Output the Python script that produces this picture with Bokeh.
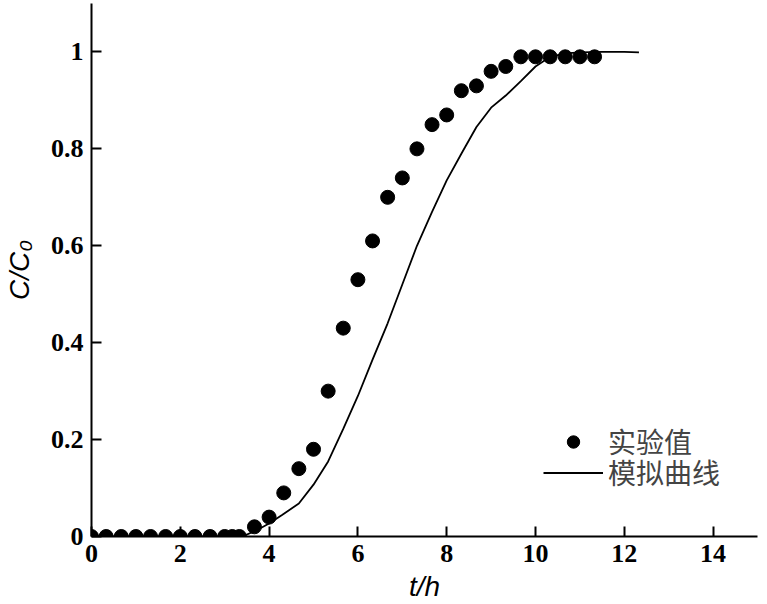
from bokeh.plotting import figure
from bokeh.models import Legend, LegendItem, NumeralTickFormatter, FixedTicker
from bokeh.embed import file_html
from bokeh.resources import INLINE

# measured breakthrough data (t in h, C/C0)
t_exp = [0, 0.33, 0.67, 1.0, 1.33, 1.67, 2.0, 2.33, 2.67, 3.0, 3.17, 3.33,
         3.67, 4.0, 4.33, 4.67, 5.0, 5.33, 5.67, 6.0, 6.33, 6.67, 7.0, 7.33,
         7.67, 8.0, 8.33, 8.67, 9.0, 9.33, 9.67, 10.0, 10.33, 10.67, 11.0, 11.33]
c_exp = [0, 0, 0, 0, 0, 0, 0, 0, 0, 0, 0, 0,
         0.02, 0.04, 0.09, 0.14, 0.18, 0.30, 0.43, 0.53, 0.61, 0.70, 0.74, 0.80,
         0.85, 0.87, 0.92, 0.93, 0.96, 0.97, 0.99, 0.99, 0.99, 0.99, 0.99, 0.99]

# simulated curve
t_fit = [0, 3.4, 3.7, 4.0, 4.3, 4.67, 5.0, 5.33, 5.67, 6.0, 6.33, 6.67, 7.0,
         7.33, 7.67, 8.0, 8.33, 8.67, 9.0, 9.33, 9.67, 10.0, 10.33, 10.67,
         11.0, 11.5, 12.0, 12.33]
c_fit = [0, 0, 0.012, 0.027, 0.045, 0.068, 0.107, 0.155, 0.222, 0.29, 0.365,
         0.44, 0.52, 0.60, 0.67, 0.735, 0.79, 0.845, 0.885, 0.91, 0.94, 0.97,
         0.99, 0.997, 0.999, 1.0, 1.0, 0.999]

x_ticks = [0, 2, 4, 6, 8, 10, 12, 14]
y_ticks = [0, 0.2, 0.4, 0.6, 0.8, 1]

TICK_FONT = "Liberation Serif"
LABEL_FONT = "Liberation Sans"

p = figure(width=767, height=604, x_range=(0, 15), y_range=(0, 1.1),
           output_backend="svg", toolbar_location=None,
           min_border_left=91, min_border_right=10, min_border_top=3, min_border_bottom=67)
p.outline_line_color = None
p.xgrid.grid_line_color = None
p.ygrid.grid_line_color = None

# axes: ticks pointing inward, bold serif labels
for ax in (p.xaxis, p.yaxis):
    ax.axis_line_width = 2
    ax.major_tick_line_width = 2
    ax.major_tick_in = 10
    ax.major_tick_out = 0
    ax.minor_tick_in = 0
    ax.minor_tick_out = 0
    ax.major_label_text_font = TICK_FONT
    ax.major_label_text_font_style = "bold"
    ax.major_label_text_font_size = "26px"
    ax.major_label_text_color = "black"
    ax.axis_line_color = "black"
    ax.major_tick_line_color = "black"
    ax.axis_label_text_font = LABEL_FONT
    ax.axis_label_text_font_style = "italic"
    ax.axis_label_text_font_size = "28px"
    ax.axis_label_text_color = "black"

p.xaxis.ticker = FixedTicker(ticks=x_ticks)
p.yaxis.ticker = FixedTicker(ticks=y_ticks)
p.yaxis.formatter = NumeralTickFormatter(format="0.[0]")
p.xaxis.major_label_standoff = 8
p.yaxis.major_label_standoff = 8

p.xaxis.axis_label = "t/h"
p.yaxis.axis_label = "C/C\u2080"
p.xaxis.axis_label_standoff = 6
p.yaxis.axis_label_standoff = 13

pts = p.scatter(t_exp, c_exp, size=14, color="black")
fit = p.line(t_fit, c_fit, line_width=1.8, color="black")

# one legend per entry, so the two rows sit as close as in the original
legend_style = dict(padding=0, margin=0, glyph_width=60, glyph_height=31,
                    label_height=31, label_standoff=5, border_line_color=None,
                    background_fill_alpha=0, label_text_font="Noto Sans CJK SC",
                    label_text_font_size="28px")
p.add_layout(Legend(items=[LegendItem(label="实验值", renderers=[pts])],
                    location=(452, 75), **legend_style))
p.add_layout(Legend(items=[LegendItem(label="模拟曲线", renderers=[fit])],
                    location=(452, 44), **legend_style))

open("out.html", "w").write(file_html(p, INLINE))
